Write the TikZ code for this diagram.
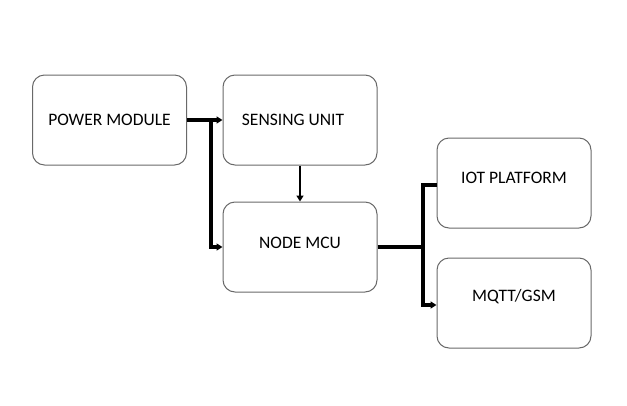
\documentclass[tikz,border=0pt]{standalone}
\usepackage{fontspec}
\setmainfont{Carlito}
\usepackage{tikz}
\usetikzlibrary{arrows.meta,calc}
\definecolor{boxline}{RGB}{105,105,105}
\tikzset{
  blk/.style ={draw=boxline, line width=1pt, rounded corners=12pt,
               minimum width=154pt, minimum height=90pt, inner sep=0pt,
               font=\fontsize{17.5}{20}\selectfont},
  raise/.style={text depth=#1},
  thk/.style ={draw=black, line width=4pt},
  thn/.style ={draw=black, line width=2.6pt},
  tip/.style ={-{Triangle[length=6pt,width=7pt]}},
}

\begin{document}
\begin{tikzpicture}[x=1pt,y=-1pt]
  \useasboundingbox (0,0) rectangle (627,405);
  \node[blk] (power)   at (109.5,120) {POWER MODULE};
  \node[blk] (sensing) at (300,120)   {SENSING UNIT\hspace*{14pt}};
  \node[blk,raise=8pt] (mcu)  at (300,247) {NODE MCU};
  \node[blk,raise=10pt] (iot) at (514,183) {IOT PLATFORM};
  \node[blk,raise=16pt] (mqtt) at (514,303) {MQTT/GSM};
  \coordinate (split) at (211,120);
  \coordinate (fork)  at (423,247);
  \draw[thk,tip] (power.east) -- (sensing.west);
  \draw[thk,tip] (split) |- (mcu.west);
  \draw[thn,tip] (sensing.south) -- (mcu.north);
  \draw[thk] (mcu.east) -- (fork);
  \draw[thk] (fork) |- ($(iot.west)+(0,2)$);
  \draw[thk,tip] (fork) |- ($(mqtt.west)+(0,2)$);
\end{tikzpicture}
\end{document}
